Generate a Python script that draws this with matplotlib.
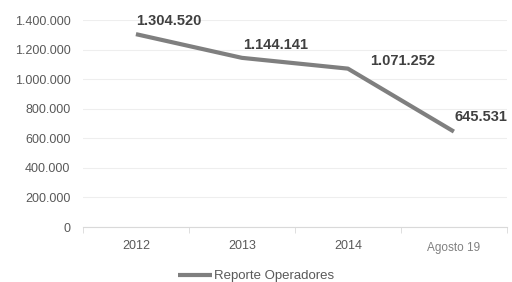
import matplotlib
matplotlib.use("Agg")
import matplotlib.pyplot as plt
from matplotlib.ticker import FuncFormatter

# Datos
categorias = ["2012", "2013", "2014", "Agosto 19"]
valores = [1304520, 1144141, 1071252, 645531]
serie = "Reporte Operadores"

# desplazamiento de cada etiqueta (pixeles a la derecha, arriba)
desp_etiquetas = [(33, 13), (34, 13), (55, 8), (27, 15)]

def miles(v, pos=None):
    return f"{int(v):,}".replace(",", ".")

plt.rcParams["font.family"] = ["Liberation Sans", "DejaVu Sans"]

fig = plt.figure(figsize=(5.12, 2.82), dpi=100)
ax = fig.add_axes([0.162, 0.195, 0.828, 0.734])

x = list(range(len(categorias)))
ax.plot(x, valores, color="#7f7f7f", linewidth=3, label=serie, solid_capstyle="butt")

# Etiquetas de datos
px = 72 / fig.dpi
for xi, v, (dx, dy) in zip(x, valores, desp_etiquetas):
    ax.annotate(miles(v), (xi, v), xytext=(dx * px, dy * px), textcoords="offset points",
                ha="center", va="center", fontsize=10.5, fontweight="bold", color="#404040")

ax.set_xlim(-0.5, len(categorias) - 0.5)
ax.set_ylim(0, 1400000)
ax.set_yticks(range(0, 1400001, 200000))
ax.yaxis.set_major_formatter(FuncFormatter(miles))
ax.set_xticks(x)
ax.set_xticklabels(categorias)
ax.set_xticks([i - 0.5 for i in range(len(categorias) + 1)], minor=True)

ax.grid(axis="y", color="#eeeeee", linewidth=0.8)
ax.set_axisbelow(True)
for s in ["top", "right", "left"]:
    ax.spines[s].set_visible(False)
ax.spines["bottom"].set_color("#d9d9d9")

ax.tick_params(axis="y", length=0, labelsize=9, labelcolor="#595959", pad=9)
ax.tick_params(axis="x", which="major", length=0, labelsize=9, labelcolor="#595959", pad=9)
ax.tick_params(axis="x", which="minor", length=4, color="#d9d9d9")
ultima = ax.get_xticklabels()[-1]
ultima.set_fontsize(8.5)
ultima.set_color("#808080")
ultima.set_y(-0.012)

fig.legend(loc="center", bbox_to_anchor=(0.5, 6 / 282), frameon=False, fontsize=9.5,
           labelcolor="#595959", handlelength=2.6, handletextpad=0.1)

fig.savefig("out.png", dpi=100)
